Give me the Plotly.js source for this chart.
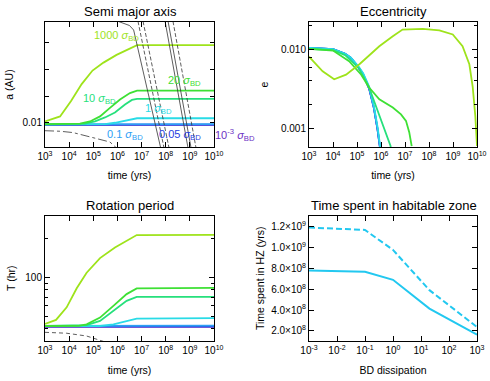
<!DOCTYPE html>
<html>
<head>
<meta charset="utf-8">
<script src="https://cdn.plot.ly/plotly-3.0.1.min.js"></script>
<style>
html, body { margin: 0; padding: 0; background: #fff; }
#chart { width: 490px; height: 381px; }
</style>
</head>
<body>
<div id="chart"></div>
<script>
// ---- semi major axis (AU) vs time (yrs) ----
var tA1000 = [1e3, 4.2e3, 1.2e4, 3.3e4, 9.3e4, 2.65e5, 9.2e5, 2.9e6, 6.5e6, 1e10];
var aA1000 = [0.0104, 0.0123, 0.0181, 0.0245, 0.0296, 0.0326, 0.0355, 0.0377, 0.0392, 0.0392];
var tA20 = [1e3, 2.8e4, 7.3e4, 1.9e5, 4.9e5, 1.28e6, 3.3e6, 6.5e6, 1e10];
var aA20 = [0.0094, 0.0096, 0.0104, 0.0123, 0.0155, 0.0187, 0.0211, 0.0220, 0.0220];
var tA10 = [1e3, 4.5e4, 1.18e5, 3.06e5, 7.9e5, 2.06e6, 4.0e6, 6.5e6, 1e10];
var aA10 = [0.0093, 0.0096, 0.0104, 0.0119, 0.0138, 0.0168, 0.0185, 0.0189, 0.0189];
var tA1 = [1e3, 3.06e5, 7.9e5, 2.06e6, 4.0e6, 6.5e6, 1e10];
var aA1 = [0.0093, 0.0094, 0.0099, 0.0108, 0.0114, 0.0116, 0.0116];
var tA01 = [1e3, 6.5e6, 1e10];
var aA01 = [0.0093, 0.0094, 0.0094];
var tA005 = [1e3, 1e10];
var aA005 = [0.0092, 0.0092];
var tA0001 = [1e3, 1e10];
var aA0001 = [0.0091, 0.0091];

// habitable zone edges and the dash-dot curve (black)
var tHzA = [9.1e5, 2.0e6, 3.16e6, 4.7e6, 5.6e6, 6.2e7];
var aHzA = [0.0484, 0.0474, 0.0466, 0.0449, 0.0419, 0.0004];
var tHzB1 = [7.1e6, 8.5e7];
var tHzB2 = [1.15e7, 1.37e8];
var tHzC1 = [9.4e7, 8.4e8];
var tHzC2 = [1.25e8, 1.12e9];
var tHzC3 = [2.0e8, 1.8e9];
var aHzLine = [0.0482, 0.0004];
var tDd = [1e3, 4.2e3, 1.45e4, 7.3e4, 4.9e5, 8.7e5, 1.06e6];
var aDd = [0.0069, 0.0067, 0.0062, 0.00453, 0.00264, 0.00057, 0.0];

// ---- eccentricity ----
var tE1000 = [1.0e3, 3.7e3, 1.12e4, 3.5e4, 1.26e5, 8.5e5, 3.1e6, 7.9e6, 5.5e7, 2.7e8, 9.8e8, 2.5e9, 4.8e9, 6.6e9, 8.5e9, 1e10];
var eE1000 = [0.0081, 0.0053, 0.0042, 0.0048, 0.0065, 0.0110, 0.0147, 0.0179, 0.0182, 0.0175, 0.0155, 0.0110, 0.0065, 0.0034, 0.00144, 0.0006];
var tE20 = [1e3, 3.2e3, 1e4, 4.7e4, 1.5e5, 3.2e5, 8.5e5, 3.1e6, 6.8e6, 1.1e7, 1.5e7, 1.9e7];
var eE20 = [0.0102, 0.0100, 0.0097, 0.0071, 0.0048, 0.0033, 0.00234, 0.00184, 0.00151, 0.00125, 0.00090, 0.0006];
var tE10 = [1e3, 3.2e3, 1e4, 3.2e4, 1.2e5, 3.2e5, 6.8e5, 1.35e6, 2.5e6, 2.7e6];
var eE10 = [0.0102, 0.0101, 0.0098, 0.0085, 0.0058, 0.0033, 0.00175, 0.00098, 0.0006, 0.0005];
var tEfast = [1e3, 3.2e3, 1e4, 3.2e4, 5.6e4, 1.2e5, 1.8e5, 3.2e5, 5.1e5, 7.2e5, 9.1e5, 1e6];
var eE1 = [0.0105, 0.0104, 0.0101, 0.0088, 0.0079, 0.0060, 0.0050, 0.0034, 0.0019, 0.00104, 0.00062, 0.0005];
var eE01 = [0.0105, 0.0104, 0.0101, 0.0088, 0.0078, 0.0059, 0.0049, 0.0033, 0.0018, 0.00098, 0.00058, 0.00047];
var eE005 = [0.0105, 0.0104, 0.0101, 0.0088, 0.0078, 0.0058, 0.0048, 0.0032, 0.0018, 0.00096, 0.00057, 0.00046];

// ---- rotation period (hr) ----
var tP1000 = [1e3, 2.86e3, 7.9e3, 2.06e4, 5.3e4, 1.9e5, 7.9e5, 2.74e6, 6.3e6, 1e10];
var pP1000 = [43.4, 46.6, 58.4, 82.3, 108.8, 141.4, 171, 194, 214, 215];
var tP20 = [1e3, 2.5e4, 5.3e4, 1.9e5, 6.8e5, 2.4e6, 6.3e6, 1e10];
var pP20 = [41.8, 41.9, 43.1, 48.6, 60.0, 74.1, 82.0, 83.0];
var tP10 = [1e3, 4e4, 5.3e4, 1.9e5, 6.8e5, 2.4e6, 6.3e6, 1e10];
var pP10 = [41.8, 41.9, 42.4, 45.8, 54.8, 65.7, 70.6, 70.6];
var tP1 = [1e3, 1.9e5, 6.8e5, 2.4e6, 6.3e6, 1e10];
var pP1 = [41.8, 41.8, 43.1, 45.8, 47.7, 48.1];
var tP01 = [1e3, 6.3e6, 1e10];
var pP01 = [41.8, 42.1, 42.1];
var tPflat = [1e3, 1e10];
var pP005 = [41.5, 41.5];
var pP0001 = [41.1, 41.1];
var tPdash = [1e3, 7.9e3, 5.3e4, 1.9e5, 3.2e5];
var pPdash = [37.3, 36.7, 34.9, 32.6, 31.3];

// ---- time spent in HZ vs BD dissipation ----
var bdDiss = [0.001, 0.1, 1, 20, 1000];
var hzTime = [7.80e8, 7.67e8, 6.90e8, 4.14e8, 1.64e8];
var hzTimeDash = [1.19e9, 1.168e9, 9.76e8, 5.91e8, 2.38e8];

// tick labels
var timeTicks = [1e3, 1e4, 1e5, 1e6, 1e7, 1e8, 1e9, 1e10];
var timeText = ['10<sup>3</sup>', '10<sup>4</sup>', '10<sup>5</sup>', '10<sup>6</sup>', '10<sup>7</sup>', '10<sup>8</sup>', '10<sup>9</sup>', '10<sup>10</sup>'];
var bdTicks = [1e-3, 1e-2, 1e-1, 1, 10, 100, 1000];
var bdText = ['10<sup>-3</sup>', '10<sup>-2</sup>', '10<sup>-1</sup>', '10<sup>0</sup>', '10<sup>1</sup>', '10<sup>2</sup>', '10<sup>3</sup>'];
var hzTicks = [2e8, 4e8, 6e8, 8e8, 1e9, 1.2e9];
var hzText = ['2.0×10<sup>8</sup>', '4.0×10<sup>8</sup>', '6.0×10<sup>8</sup>', '8.0×10<sup>8</sup>', '1.0×10<sup>9</sup>', '1.2×10<sup>9</sup>'];

var c1000 = '#9ee31b', c20 = '#3ee034', c10 = '#26e07c', c1 = '#29dbe6',
    c01 = '#2d9ef5', c005 = '#1f3de0', c0001 = '#6b2fc4', cHz = '#22c8f0';

function line(x, y, color, xa, ya, dash, w) {
  return { x: x, y: y, type: 'scatter', mode: 'lines', xaxis: xa, yaxis: ya,
           line: { color: color, width: w || 1.8, dash: dash || 'solid' },
           hoverinfo: 'skip', showlegend: false };
}

var data = [
  // semi major axis
  line(tA0001, aA0001, c0001, 'x', 'y'),
  line(tA005, aA005, c005, 'x', 'y'),
  line(tA01, aA01, c01, 'x', 'y'),
  line(tA1, aA1, c1, 'x', 'y'),
  line(tA10, aA10, c10, 'x', 'y'),
  line(tA20, aA20, c20, 'x', 'y'),
  line(tA1000, aA1000, c1000, 'x', 'y'),
  line(tHzA, aHzA, '#333', 'x', 'y', 'solid', 0.8),
  line(tHzB1, aHzLine, '#333', 'x', 'y', '4px,2px', 0.8),
  line(tHzB2, aHzLine, '#333', 'x', 'y', '4px,2px', 0.8),
  line(tHzC1, aHzLine, '#333', 'x', 'y', 'solid', 0.8),
  line(tHzC2, aHzLine, '#333', 'x', 'y', 'solid', 0.8),
  line(tHzC3, aHzLine, '#333', 'x', 'y', '4px,2px', 0.8),
  line(tDd, aDd, '#333', 'x', 'y', 'dashdot', 0.8),
  // eccentricity
  line(tEfast, eE005, c0001, 'x2', 'y2'),
  line(tEfast, eE005, c005, 'x2', 'y2'),
  line(tEfast, eE01, c01, 'x2', 'y2'),
  line(tEfast, eE1, c1, 'x2', 'y2'),
  line(tE10, eE10, c10, 'x2', 'y2'),
  line(tE20, eE20, c20, 'x2', 'y2'),
  line(tE1000, eE1000, c1000, 'x2', 'y2'),
  // rotation period
  line(tPflat, pP0001, c0001, 'x3', 'y3'),
  line(tPflat, pP005, c005, 'x3', 'y3'),
  line(tP01, pP01, c01, 'x3', 'y3'),
  line(tP1, pP1, c1, 'x3', 'y3'),
  line(tP10, pP10, c10, 'x3', 'y3'),
  line(tP20, pP20, c20, 'x3', 'y3'),
  line(tP1000, pP1000, c1000, 'x3', 'y3'),
  line(tPdash, pPdash, '#333', 'x3', 'y3', '4px,3px', 0.8),
  // time in HZ
  line(bdDiss, hzTimeDash, cHz, 'x4', 'y4', '6px,3px', 2),
  line(bdDiss, hzTime, cHz, 'x4', 'y4', 'solid', 2)
];

var W = 490, H = 381;
var colL = [45 / W, 214 / W], colR = [309 / W, 477 / W];
var rowT = [1 - 147 / H, 1 - 22 / H], rowB = [1 - 341 / H, 1 - 215.5 / H];
var font = 'Liberation Sans, Arial, Helvetica, sans-serif';

function axis(extra) {
  var ax = {
    showline: true, linecolor: '#000', linewidth: 1, mirror: 'ticks',
    ticks: 'inside', ticklen: 5, tickcolor: '#000', tickwidth: 1,
    showgrid: false, zeroline: false, fixedrange: true,
    tickfont: { size: 10, color: '#000' }
  };
  for (var k in extra) ax[k] = extra[k];
  return ax;
}
function timeAxis(dom, anchor, gap) {
  return axis({ domain: dom, anchor: anchor, type: 'log', range: [3, 10],
    tickmode: 'array', tickvals: timeTicks, ticktext: timeText,
    title: { text: 'time (yrs)', font: { size: 10.5 }, standoff: gap } });
}
function minorTicks(vals, len) {
  return { tickmode: 'array', tickvals: vals, ticks: 'inside', ticklen: len || 3, tickcolor: '#000' };
}

var layout = {
  width: W, height: H,
  margin: { l: 0, r: 0, t: 0, b: 0 },
  paper_bgcolor: '#fff', plot_bgcolor: '#fff',
  font: { family: font, color: '#000' },
  showlegend: false,
  xaxis: timeAxis(colL, 'y', 10.5),
  yaxis: axis({ domain: rowT, anchor: 'x', range: [0.000755, 0.04792],
    tickmode: 'array', tickvals: [0.01], ticktext: ['0.01'], ticklen: 4,
    minor: minorTicks([0.02, 0.03, 0.04], 4),
    title: { text: 'a (AU)', font: { size: 10.5 }, standoff: 6 } }),
  xaxis2: timeAxis(colR, 'y2', 10.5),
  yaxis2: axis({ domain: rowT, anchor: 'x2', type: 'log', range: [-3.234, -1.652],
    tickmode: 'array', tickvals: [0.001, 0.01], ticktext: ['0.001', '0.010'],
    minor: minorTicks([0.002, 0.004, 0.006, 0.008, 0.02]),
    title: { text: 'e', font: { size: 10.5 }, standoff: 10 } }),
  xaxis3: timeAxis(colL, 'y3', 11.5),
  yaxis3: axis({ domain: rowB, anchor: 'x3', type: 'log', range: [1.504, 2.483],
    tickmode: 'array', tickvals: [100], ticktext: ['100'],
    minor: minorTicks([40, 50, 60, 70, 80, 90, 200, 300]),
    title: { text: 'T (hr)', font: { size: 10.5 }, standoff: 7 } }),
  xaxis4: axis({ domain: colR, anchor: 'y4', type: 'log', range: [-3, 3],
    tickmode: 'array', tickvals: bdTicks, ticktext: bdText,
    title: { text: 'BD dissipation', font: { size: 10.5 }, standoff: 11.5 } }),
  yaxis4: axis({ domain: rowB, anchor: 'x4', range: [1.038e8, 1.306e9],
    tickmode: 'array', tickvals: hzTicks, ticktext: hzText,
    title: { text: 'Time spent in HZ (yrs)', font: { size: 10.5 }, standoff: 4 } }),
  annotations: []
};

function note(text, x, y, color, size, anchor) {
  layout.annotations.push({ text: text, xref: 'paper', yref: 'paper',
    x: x / W, y: 1 - y / H, xanchor: anchor || 'left', yanchor: 'middle',
    showarrow: false, font: { size: size, color: color, family: font } });
}
// panel titles
note('Semi major axis', 130, 12, '#000', 13, 'center');
note('Eccentricity', 393, 12, '#000', 13, 'center');
note('Rotation period', 130, 205, '#000', 13, 'center');
note('Time spent in habitable zone', 394, 205, '#000', 13, 'center');
// curve labels
var sig = ' <i>σ</i><sub>BD</sub>';
note('1000' + sig, 92, 36, c1000, 11);
note('20' + sig, 166, 81, c20, 11);
note('10' + sig, 81, 99, c10, 11);
note('1' + sig, 143, 109, c1, 11);
note('0.1' + sig, 105, 135, c01, 11);
note('0.05' + sig, 157, 135, c005, 11);
note('10<sup>-3</sup>' + sig, 213, 135, c0001, 11);

Plotly.newPlot('chart', data, layout, { staticPlot: true, displayModeBar: false });
</script>
</body>
</html>
